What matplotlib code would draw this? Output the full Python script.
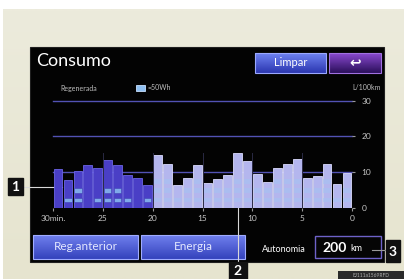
import numpy as np
import matplotlib
matplotlib.use("Agg")
import matplotlib.pyplot as plt
from matplotlib.patches import Rectangle

plt.rcParams['font.family'] = ['Lato', 'DejaVu Sans']

# ---- data ----
minutes_ago = list(range(30, 0, -1))  # bar i spans minute (30-i) .. (29-i)
consumption = [10.9, 7.9, 10.4, 12.0, 11.2, 13.3, 11.9, 9.1, 8.5, 6.5,
               14.9, 12.3, 6.3, 8.5, 11.9, 7.1, 8.1, 9.1, 15.4, 13.1,
               9.5, 7.4, 11.2, 12.3, 13.7, 8.4, 9.0, 12.3, 6.7, 9.9]
regen_blocks = [0, 1, 2, 0, 1, 2, 2, 1, 0, 1,
                3, 3, 1, 2, 3, 2, 2, 2, 3, 3,
                2, 2, 3, 3, 3, 2, 2, 3, 1, 2]
previous_count = 10  # bars from the previous record (darker)
x_ticks = [30, 25, 20, 15, 10, 5, 0]
x_tick_labels = ['30min.', '25', '20', '15', '10', '5', '0']
y_ticks = [0, 10, 20, 30]
y_tick_labels = ['0', '10', '20', '30']

W, H = 404, 279
fig = plt.figure(figsize=(W / 100, H / 100), dpi=100)
fig.patch.set_facecolor('white')

bg = fig.add_axes([0, 0, 1, 1])
bg.axis('off')

def grad_rect(ax, x0, y0, x1, y1, top, bottom, z=1):
    c0 = np.array(matplotlib.colors.to_rgb(top))
    c1 = np.array(matplotlib.colors.to_rgb(bottom))
    t = np.linspace(0, 1, 64)[:, None]
    img = (c0 * (1 - t) + c1 * t)[:, None, :]
    ax.imshow(img, extent=(x0, x1, y1, y0), aspect='auto', zorder=z, interpolation='bilinear')

grad_rect(bg, 3, 9, W, H, '#ecebdc', '#e6e4cf', z=0)
bg.set_xlim(0, W)
bg.set_ylim(H, 0)
bg.add_patch(Rectangle((30, 47), 354, 215, facecolor='#030303', edgecolor='#202020', lw=0.8, zorder=1))

bg.text(36, 61, 'Consumo', color='white', fontsize=13, ha='left', va='center', zorder=5)

grad_rect(bg, 255, 53, 326, 73, '#6f83f2', '#2b36b0', z=2)
bg.add_patch(Rectangle((255, 53), 71, 20, fill=False, edgecolor='#9aa8ff', lw=0.8, zorder=3))
bg.text(290.5, 63, 'Limpar', color='white', fontsize=8, ha='center', va='center', zorder=5)
grad_rect(bg, 329, 53, 381, 73, '#8a4ad0', '#2a0f5a', z=2)
bg.add_patch(Rectangle((329, 53), 52, 20, fill=False, edgecolor='#a070e0', lw=0.8, zorder=3))
bg.text(355, 63.5, '\u21a9', color='white', fontsize=10, fontweight='bold', ha='center', va='center',
        family='DejaVu Sans', zorder=5)

bg.text(60, 88, 'Regenerada', color='#bdbdbd', fontsize=5, ha='left', va='center', zorder=5)
bg.add_patch(Rectangle((136, 85), 9, 6, facecolor='#8fc0f2', edgecolor='#c8e0ff', lw=0.6, zorder=5))
bg.text(147, 88, '=50Wh', color='#bdbdbd', fontsize=5, ha='left', va='center', zorder=5)
bg.text(381, 88, 'L/100km', color='#bdbdbd', fontsize=5, ha='right', va='center', zorder=5)

for (x0, x1, label) in [(33, 138, 'Reg.anterior'), (141, 245, 'Energia')]:
    grad_rect(bg, x0, 235, x1, 259, '#7080ee', '#3442bc', z=2)
    bg.add_patch(Rectangle((x0, 235), x1 - x0, 24, fill=False, edgecolor='#a0acff', lw=0.8, zorder=3))
    bg.text((x0 + x1) / 2, 247, label, color='#e4e8ff', fontsize=8.5, ha='center', va='center', zorder=5)

bg.text(262, 249, 'Autonomia', color='white', fontsize=6.5, ha='left', va='center', zorder=5)
bg.add_patch(Rectangle((315, 236), 66, 22, facecolor='#050505', edgecolor='#6e62c8', lw=1.0, zorder=3))
bg.text(347, 247.5, '200', color='white', fontsize=10, fontweight='bold', ha='right', va='center', zorder=5)
bg.text(350, 248.5, 'km', color='white', fontsize=6.5, ha='left', va='center', zorder=5)

line_c = '#d8d8d8'
bg.plot([23, 62], [187, 187], color=line_c, lw=0.8, zorder=6)
bg.plot([238, 238], [193, 262], color=line_c, lw=0.8, zorder=6)
bg.plot([372, 386], [250, 250], color='#9a9a9a', lw=0.8, zorder=6)
for (x0, y0, w, h, s) in [(8, 178, 15, 17, '1'), (229, 262, 18, 17, '2'), (386, 240, 14, 22, '3')]:
    bg.add_patch(Rectangle((x0, y0), w, h, facecolor='#111111', edgecolor='#111111', zorder=7))
    bg.text(x0 + w / 2, y0 + h / 2 + 0.5, s, color='white', fontsize=10, fontweight='bold',
            ha='center', va='center', zorder=8)

bg.add_patch(Rectangle((338, 271), 66, 8, facecolor='#2a2a2a', zorder=7))
bg.text(371, 275.5, 'EJ111a1569RFD', color='#b0b0b0', fontsize=3.5, ha='center', va='center', zorder=8)

# ---- chart axes ----
ax = fig.add_axes([53 / W, (H - 208) / H, (352 - 53) / W, (208 - 100.7) / H])
ax.set_facecolor('none')
ax.set_xlim(30, 0)
ax.set_ylim(0, 30)
for s in ax.spines.values():
    s.set_visible(False)

for yv in [10, 20, 30]:
    ax.axhline(yv, color='#5252b4', lw=1.0, zorder=1, clip_on=False)

centers = [m - 0.5 for m in minutes_ago]
cols = ['#4a3fc6' if i < previous_count else '#b4b6ee' for i in range(30)]
edges = ['#6c64e6' if i < previous_count else '#dcdcff' for i in range(30)]
ax.bar(centers, consumption, width=0.88, color=cols, edgecolor=edges, linewidth=0.6, zorder=2)

for c, v, n, i in zip(centers, consumption, regen_blocks, range(30)):
    for k in range(n):
        y0 = 1.6 + k * 2.6
        if y0 + 1.4 > v - 0.3:
            break
        if i < previous_count:
            ax.add_patch(Rectangle((c - 0.36, y0), 0.72, 1.3, facecolor='#86b6ee', edgecolor='#3c3cb0',
                                   lw=0.4, alpha=0.9, zorder=3))
        else:
            ax.add_patch(Rectangle((c - 0.36, y0), 0.72, 1.3, facecolor='#a4c4f2', edgecolor='none',
                                   alpha=0.55, zorder=3))

for xv in [25, 20, 15, 10, 5]:
    ax.plot([xv, xv], [0, 15.5], color='#2a2a44', lw=0.7, zorder=4)

ax.set_xticks(x_ticks)
ax.set_xticklabels(x_tick_labels)
ax.set_yticks(y_ticks)
ax.set_yticklabels(y_tick_labels)
ax.yaxis.tick_right()
ax.tick_params(axis='y', colors='#9a9a9a', labelcolor='#c8c8c8', length=2, width=0.8,
               pad=5, labelsize=6)
ax.tick_params(axis='x', colors='#9a9a9a', labelcolor='#c8c8c8', length=2, width=0.8,
               pad=3, labelsize=6)

fig.savefig('out.png', dpi=100, facecolor=fig.get_facecolor())
